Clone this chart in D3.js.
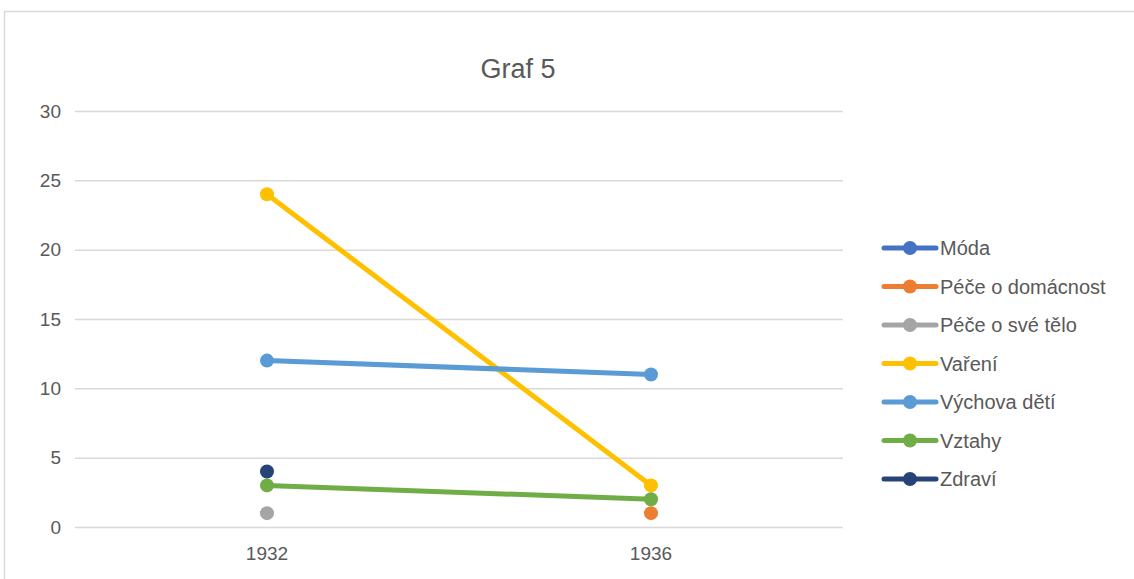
<!DOCTYPE html>
<html><head><meta charset="utf-8">
<script src="https://cdn.jsdelivr.net/npm/d3@7"></script>
<style>body{margin:0;background:#fff}text{font-family:"Liberation Sans",Arial,sans-serif}</style>
</head><body><svg id="c" width="1134" height="579"></svg>
<script>
const categories = ["1932", "1936"];
const seriesNames = ["Móda", "Péče o domácnost", "Péče o své tělo", "Vaření", "Výchova dětí", "Vztahy", "Zdraví"];
const modaValues = [null, null];
const domacnostValues = [null, 1];
const teloValues = [1, null];
const vareniValues = [24, 3];
const vychovaValues = [12, 11];
const vztahyValues = [3, 2];
const zdraviValues = [4, null];
const seriesColors = ["#4472C4", "#ED7D31", "#A5A5A5", "#FFC000", "#5B9BD5", "#70AD47", "#264478"];
const yTicks = [0, 5, 10, 15, 20, 25, 30];
const title = "Graf 5";

const allValues = [modaValues, domacnostValues, teloValues, vareniValues, vychovaValues, vztahyValues, zdraviValues];
const series = seriesNames.map((n, i) => ({name: n, values: allValues[i], color: seriesColors[i]}));
const FONT = '"Liberation Sans",Arial,sans-serif';

const svg = d3.select("#c");
svg.append("rect").attr("x", 4.5).attr("y", 11.5).attr("width", 1200).attr("height", 700)
  .attr("fill", "#fff").attr("stroke", "#d9d9d9").attr("stroke-width", 1.5);

const x = d3.scaleBand().domain(categories).range([75, 843]);
const y = d3.scaleLinear().domain([0, 30]).range([527, 111]);

svg.append("text").attr("x", 518).attr("y", 78).attr("text-anchor", "middle")
  .attr("font-size", 27).attr("fill", "#595959").text(title);

const gy = svg.append("g").attr("transform", "translate(75,0)")
  .call(d3.axisLeft(y).tickValues(yTicks).tickSize(-768).tickPadding(14));
gy.select(".domain").remove();
gy.selectAll(".tick line").attr("stroke", "#d9d9d9").attr("stroke-width", 1.5);
gy.selectAll(".tick text").attr("fill", "#595959").attr("font-size", 19).style("font-family", FONT);

const gx = svg.append("g").attr("transform", "translate(0,527)")
  .call(d3.axisBottom(x).tickSize(0).tickPadding(20));
gx.select(".domain").remove();
gx.selectAll(".tick text").attr("fill", "#595959").attr("font-size", 19).style("font-family", FONT);

const cx = c => x(c) + x.bandwidth() / 2;
const line = d3.line().defined(d => d.v != null).x(d => cx(d.c)).y(d => y(d.v));

series.forEach(s => {
  const pts = categories.map((c, i) => ({c, v: s.values[i]}));
  svg.append("path").datum(pts).attr("d", line).attr("fill", "none")
    .attr("stroke", s.color).attr("stroke-width", 5).attr("stroke-linecap", "round");
  svg.selectAll(null).data(pts.filter(d => d.v != null)).enter().append("circle")
    .attr("cx", d => cx(d.c)).attr("cy", d => y(d.v)).attr("r", 7).attr("fill", s.color);
});

const lg = svg.append("g");
series.forEach((s, i) => {
  const yy = 248 + i * 38.5;
  lg.append("line").attr("x1", 884).attr("x2", 936).attr("y1", yy).attr("y2", yy)
    .attr("stroke", s.color).attr("stroke-width", 5).attr("stroke-linecap", "round");
  lg.append("circle").attr("cx", 910).attr("cy", yy).attr("r", 7).attr("fill", s.color);
  lg.append("text").attr("x", 940).attr("y", yy + 7).attr("font-size", 20).attr("fill", "#595959").text(s.name);
});
</script></body></html>
